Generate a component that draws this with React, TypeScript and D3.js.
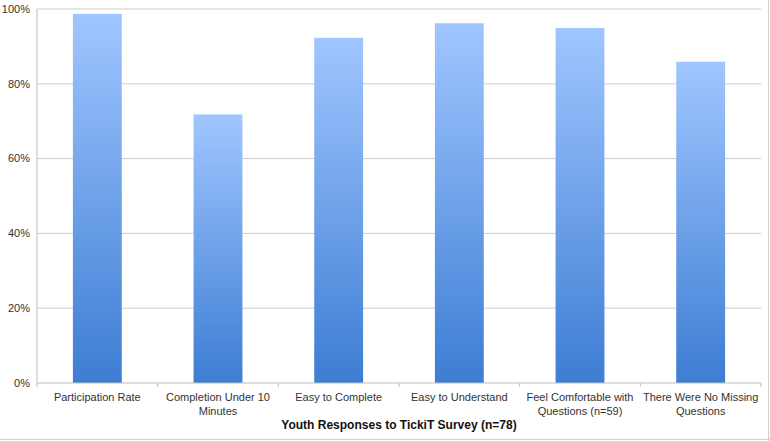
import React from "react";
import * as d3 from "d3";

const categories: string[][] = [
  ["Participation Rate"],
  ["Completion Under 10", "Minutes"],
  ["Easy to Complete"],
  ["Easy to Understand"],
  ["Feel Comfortable with", "Questions (n=59)"],
  ["There Were No Missing", "Questions"],
];
const values: number[] = [98.7, 71.8, 92.3, 96.2, 94.9, 85.9];
const yTicks: number[] = [0, 20, 40, 60, 80, 100];
const xTitle = "Youth Responses to TickiT Survey (n=78)";

const W = 770;
const H = 441;
const left = 37;
const right = 761;
const top = 9;
const bottom = 383;

export default function App() {
  const x = d3
    .scaleBand<number>()
    .domain(d3.range(categories.length))
    .range([left, right])
    .paddingInner(0)
    .paddingOuter(0);
  const y = d3.scaleLinear().domain([0, 100]).range([bottom, top]);
  const bw = x.bandwidth() * 0.405;
  const font = "'Liberation Sans', Arial, Helvetica, sans-serif";

  return (
    <svg
      width={W}
      height={H}
      style={{ position: "absolute", left: 0, top: 0, background: "#fff" }}
      fontFamily={font}
    >
      <defs>
        <linearGradient id="barGrad" x1="0" y1="0" x2="0" y2="1">
          <stop offset="0%" stopColor="#a0c6ff" />
          <stop offset="100%" stopColor="#3d7dd3" />
        </linearGradient>
      </defs>
      {yTicks.map((t) => (
        <g key={t}>
          {t > 0 && (
            <line
              x1={left}
              x2={right}
              y1={y(t)}
              y2={y(t)}
              stroke="#cdcdcd"
              strokeWidth={1}
            />
          )}
          <text
            x={30}
            y={y(t)}
            dy="0.35em"
            textAnchor="end"
            fontSize={11}
            fill="#333"
          >
            {t}%
          </text>
        </g>
      ))}
      {values.map((v, i) => {
        const cx = (x(i) as number) + x.bandwidth() / 2;
        return (
          <rect
            key={i}
            x={cx - bw / 2}
            y={y(v)}
            width={bw}
            height={bottom - y(v)}
            fill="url(#barGrad)"
          />
        );
      })}
      <line x1={left} x2={left} y1={top} y2={bottom} stroke="#bdbdbd" />
      <line x1={left} x2={right} y1={bottom} y2={bottom} stroke="#bdbdbd" />
      {d3.range(categories.length + 1).map((i) => {
        const xx = left + x.step() * i;
        return (
          <line
            key={i}
            x1={xx}
            x2={xx}
            y1={bottom}
            y2={bottom + 4}
            stroke="#bdbdbd"
          />
        );
      })}
      {categories.map((lines, i) => {
        const cx = (x(i) as number) + x.bandwidth() / 2;
        return (
          <text
            key={i}
            x={cx}
            y={401}
            textAnchor="middle"
            fontSize={11}
            fill="#333"
          >
            {lines.map((l, j) => (
              <tspan key={j} x={cx} dy={j === 0 ? 0 : 13.5}>
                {l}
              </tspan>
            ))}
          </text>
        );
      })}
      <text
        x={(left + right) / 2}
        y={429}
        textAnchor="middle"
        fontSize={12}
        fontWeight="bold"
        fill="#111"
      >
        {xTitle}
      </text>
      <line x1={768.5} x2={768.5} y1={0} y2={H} stroke="#d0d0d0" />
      <line x1={0} x2={W} y1={439.5} y2={439.5} stroke="#d0d0d0" />
    </svg>
  );
}
